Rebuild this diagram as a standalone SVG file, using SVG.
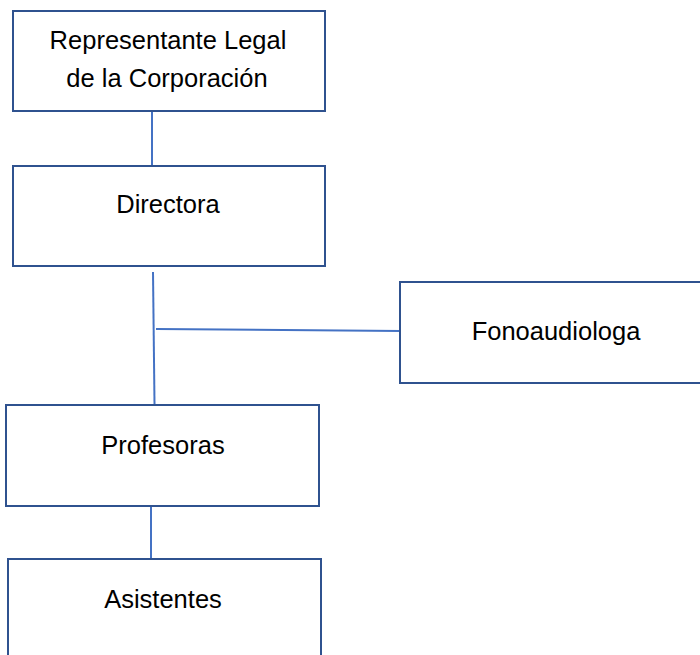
<svg xmlns="http://www.w3.org/2000/svg" width="700" height="655" viewBox="0 0 700 655">
<style>
.box{fill:#ffffff;stroke:#2F528F;stroke-width:2}
.lbl{font-family:"Liberation Sans",Arial,sans-serif;font-size:25.5px;fill:#000000;text-anchor:middle}
.conn{stroke:#4472C4;stroke-width:2;fill:none}
</style>
<rect width="700" height="655" fill="#ffffff"/>
<g id="connectors">
<line class="conn" x1="152" y1="110" x2="152" y2="166"/>
<line class="conn" x1="153" y1="272" x2="154.5" y2="404"/>
<line class="conn" x1="156" y1="329" x2="401" y2="331" stroke-width="1.5"/>
<line class="conn" x1="151" y1="502" x2="151" y2="559"/>
</g>
<g id="node-representante">
<rect class="box" x="13" y="11" width="312" height="100"/>
<text class="lbl" x="168" y="49">Representante Legal</text>
<text class="lbl" x="167" y="87">de la Corporación</text>
</g>
<g id="node-directora">
<rect class="box" x="13" y="166" width="312" height="100"/>
<text class="lbl" x="168" y="213">Directora</text>
</g>
<g id="node-fonoaudiologa">
<rect class="box" x="400" y="282" width="310" height="101"/>
<text class="lbl" x="556" y="340">Fonoaudiologa</text>
</g>
<g id="node-profesoras">
<rect class="box" x="6" y="405" width="313" height="101"/>
<text class="lbl" x="163" y="454">Profesoras</text>
</g>
<g id="node-asistentes">
<rect class="box" x="8" y="559" width="313" height="110"/>
<text class="lbl" x="163" y="608">Asistentes</text>
</g>
</svg>
